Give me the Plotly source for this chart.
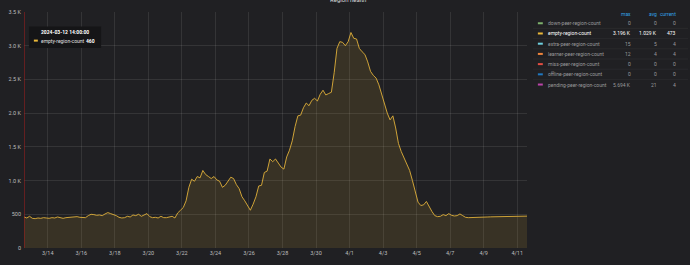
import plotly.graph_objects as go
import pandas as pd

# ---- data ----
start_time = "2024-03-12 14:00"
empty_region_count = [
    460, 445, 470, 440, 435, 445, 440, 450, 445, 440,
    450, 445, 460, 455, 440, 450, 455, 460, 470, 465,
    455, 450, 450, 480, 500, 495, 485, 490, 480, 505,
    525, 510, 500, 480, 455, 445, 450, 470, 460, 490,
    480, 500, 470, 485, 510, 465, 450, 455, 445, 470,
    450, 450, 455, 470, 445, 520, 560, 600, 700, 900,
    1020, 990, 1060, 1040, 1150, 1090, 1060, 1030, 1060, 1010,
    990, 900, 930, 1000, 1050, 1030, 940, 880, 760, 700,
    620, 560, 650, 760, 920, 930, 1120, 1140, 1320, 1280,
    1320, 1250, 1200, 1170, 1350, 1450, 1590, 1800, 1960, 1970,
    2080, 2150, 2110, 2190, 2220, 2180, 2280, 2340, 2270, 2290,
    2310, 2600, 2960, 3060, 3050, 3000, 3060, 3196, 3110, 3100,
    2960, 2910, 2870, 2760, 2620, 2560, 2520, 2420, 2280, 2150,
    2000, 1900, 1960, 1780, 1550, 1430, 1330, 1240, 1150, 1000,
    830, 680, 630, 640, 690, 610, 540, 480, 465, 470,
    495, 480, 510, 485, 475, 480, 505, 480, 455, 450,
    450, 452, 455, 455, 458, 460, 460, 462, 463, 465,
    465, 466, 467, 468, 468, 470, 470, 471, 472, 472,
    473,
]
y_tick_vals = [0, 500, 1000, 1500, 2000, 2500, 3000, 3500]
y_tick_text = ["0", "500", "1.0 K", "1.5 K", "2.0 K", "2.5 K", "3.0 K", "3.5 K"]
x_tick_dates = ["2024-03-14", "2024-03-16", "2024-03-18", "2024-03-20", "2024-03-22",
                "2024-03-24", "2024-03-26", "2024-03-28", "2024-03-30", "2024-04-01",
                "2024-04-03", "2024-04-05", "2024-04-07", "2024-04-09", "2024-04-11"]
x_tick_text = ["3/14", "3/16", "3/18", "3/20", "3/22", "3/24", "3/26", "3/28", "3/30",
               "4/1", "4/3", "4/5", "4/7", "4/9", "4/11"]

legend_names = ["down-peer-region-count", "empty-region-count", "extra-peer-region-count",
                "learner-peer-region-count", "miss-peer-region-count",
                "offline-peer-region-count", "pending-peer-region-count"]
legend_colors = ["#7eb26d", "#eab839", "#6ed0e0", "#ef843c", "#e24d42", "#1f78c1", "#ba43a9"]
legend_max = ["0", "3.196 K", "15", "12", "0", "0", "5.694 K"]
legend_avg = ["0", "1.029 K", "5", "4", "0", "0", "21"]
legend_current = ["0", "473", "4", "4", "0", "0", "4"]

tooltip_time = "2024-03-12 14:00:00"
tooltip_value = "460"
title_text = "Region health"

# ---- layout geometry (pixels) ----
W, H = 690, 265
L, R, T, B = 18, 527, 9, 254
BG = "#202023"
FONT = "Roboto"


def px(x):
    return (x - L) / (R - L)


def py(y):
    return (B - y) / (B - T)


times = pd.date_range(start_time, periods=len(empty_region_count), freq="4h")

fig = go.Figure()
fig.add_trace(go.Scatter(
    x=times, y=empty_region_count, mode="lines",
    line=dict(color="#e0b03a", width=0.9),
    fill="tozeroy", fillcolor="rgba(234,184,57,0.12)",
    hoverinfo="skip", showlegend=False,
))

fig.update_layout(
    width=W, height=H,
    margin=dict(l=L, r=W - R, t=T, b=H - B),
    paper_bgcolor=BG, plot_bgcolor=BG,
    font=dict(family=FONT, size=5.5, color="#bdbdbd"),
    xaxis=dict(
        range=[times[0], times[-1]],
        tickvals=pd.to_datetime(x_tick_dates), ticktext=x_tick_text,
        showgrid=True, gridcolor="rgba(255,255,255,0.09)", gridwidth=1,
        zeroline=False, showline=False, ticks="",
        tickfont=dict(size=5.5, color="#bdbdbd"),
    ),
    yaxis=dict(
        range=[0, 3500],
        tickvals=y_tick_vals, ticktext=y_tick_text,
        showgrid=True, gridcolor="rgba(255,255,255,0.09)", gridwidth=1,
        zeroline=False, showline=False, ticks="",
        tickfont=dict(size=5.5, color="#bdbdbd"),
        ticklabelstandoff=2,
    ),
)

shapes = []
annotations = []

# crosshair
shapes.append(dict(type="line", xref="x", yref="paper", x0=times[0], x1=times[0],
                   y0=0, y1=1, line=dict(color="#a81e1e", width=1)))

# title (clipped at top of the page)
annotations.append(dict(xref="paper", yref="paper", x=px(346), y=py(-4),
                        text=title_text, showarrow=False, xanchor="center", yanchor="middle",
                        font=dict(size=6, color="#d8d9da")))

# tooltip
shapes.append(dict(type="rect", xref="paper", yref="paper",
                   x0=px(23), x1=px(96), y0=py(46.5), y1=py(24),
                   fillcolor="#151517", line=dict(width=0), layer="above"))
annotations.append(dict(xref="paper", yref="paper", x=px(59.5), y=py(30),
                        text="<b>" + tooltip_time + "</b>", showarrow=False,
                        xanchor="center", yanchor="middle",
                        font=dict(size=5, color="#ffffff")))
shapes.append(dict(type="line", xref="paper", yref="paper",
                   x0=px(28), x1=px(32), y0=py(38.7), y1=py(38.7),
                   line=dict(color=legend_colors[1], width=2), layer="above"))
annotations.append(dict(xref="paper", yref="paper", x=px(33), y=py(38.7),
                        text=legend_names[1], showarrow=False,
                        xanchor="left", yanchor="middle",
                        font=dict(size=5, color="#e0e0e0")))
annotations.append(dict(xref="paper", yref="paper", x=px(92), y=py(38.7),
                        text="<b>" + tooltip_value + "</b>", showarrow=False,
                        xanchor="right", yanchor="middle",
                        font=dict(size=5, color="#ffffff")))

# legend table
hdr_y = 11
col_max, col_avg, col_cur = 634, 661, 680
for txt, xr in [("max", col_max), ("avg", col_avg), ("current", col_cur)]:
    annotations.append(dict(xref="paper", yref="paper", x=px(xr), y=py(hdr_y),
                            text=txt, showarrow=False, xanchor="right", yanchor="middle",
                            font=dict(size=5, color="#33a2e5")))
row0, dy = 20.7, 10.6
for i, name in enumerate(legend_names):
    yy = row0 + dy * i
    hl = (i == 1)
    col = "#ffffff" if hl else "#9a9a9c"
    if i < len(legend_names) - 1:
        shapes.append(dict(type="line", xref="paper", yref="paper",
                           x0=px(533), x1=px(690), y0=py(yy + dy / 2), y1=py(yy + dy / 2),
                           line=dict(color="#29292c", width=1)))
    shapes.append(dict(type="line", xref="paper", yref="paper",
                       x0=px(538), x1=px(543), y0=py(yy), y1=py(yy),
                       line=dict(color=legend_colors[i], width=2)))
    annotations.append(dict(xref="paper", yref="paper", x=px(546), y=py(yy),
                            text=name, showarrow=False, xanchor="left", yanchor="middle",
                            font=dict(size=5, color=col)))
    for vals, xr in [(legend_max, col_max), (legend_avg, col_avg), (legend_current, col_cur)]:
        annotations.append(dict(xref="paper", yref="paper", x=px(xr), y=py(yy),
                                text=vals[i], showarrow=False, xanchor="right", yanchor="middle",
                                font=dict(size=5, color=col)))

fig.update_layout(shapes=shapes, annotations=annotations)
fig.write_html("out.html")
